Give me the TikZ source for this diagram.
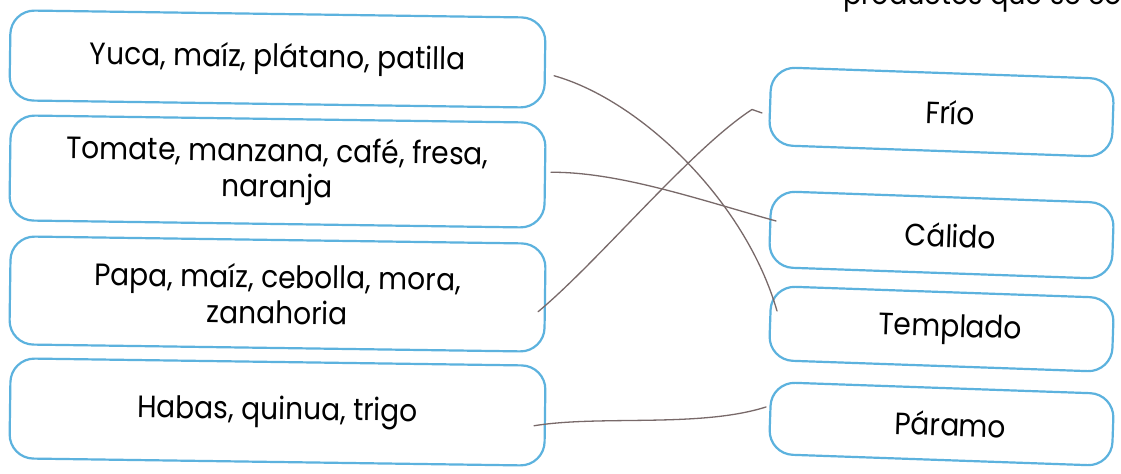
\documentclass[tikz,border=0pt]{standalone}
\usepackage{fontspec}
\setmainfont[FakeStretch=0.91]{Poppins}
\definecolor{boxblue}{RGB}{92,178,222}
\definecolor{pencilc}{RGB}{120,105,105}
\begin{document}
\begin{tikzpicture}[x=1bp,y=-1bp,
  box/.style={draw=boxblue, line width=2.2bp, rounded corners=24bp, inner sep=0pt,
              align=center, font=\fontsize{31}{36}\selectfont},
  lbox/.style={box, minimum width=535bp, rotate=-0.8},
  rbox/.style={box, minimum width=343bp, rotate=-2,
               execute at begin node={\hspace*{18bp}}},
  pencil/.style={draw=pencilc, line width=1.3bp, line cap=round}]
\useasboundingbox (0,0) rectangle (1121,474);
\fill[white] (0,0) rectangle (1121,474);
% partial heading at the top edge
\node[anchor=base east, font=\fontsize{30}{32}\selectfont] (head) at (1140,5) {productos que se cos};
% left boxes
\node[lbox, minimum height=90bp]  (y1) at (277.5,59)  {Yuca, maíz, plátano, patilla};
\node[lbox, minimum height=105bp] (y2) at (277.5,171.5) {Tomate, manzana, café, fresa,\\naranja};
\node[lbox, minimum height=108bp] (y3) at (277.5,294) {Papa, maíz, cebolla, mora,\\zanahoria};
\node[lbox, minimum height=100bp] (y4) at (277.5,412) {Habas, quinua, trigo};
% right boxes
\node[rbox, minimum height=78bp] (frio)     at (941.5,112)   {Frío};
\node[rbox, minimum height=76bp] (calido)   at (941.5,235)   {Cálido};
\node[rbox, minimum height=74bp] (templado) at (941.5,329)   {Templado};
\node[rbox, minimum height=72bp] (paramo)   at (941.5,424)   {Páramo};
% hand-drawn connectors
\draw[pencil] ([shift={(8,13)}]y1.east) .. controls (640,100) and (745,200) .. ([shift={(8,-12)}]templado.west);
\draw[pencil] ([shift={(5,-3)}]y2.east) .. controls (620,172) and (700,200) .. ([shift={(7,-8)}]calido.west);
\draw[pencil] ([shift={(-8,14)}]y3.east) .. controls (600,260) and (690,150) .. ([shift={(-17,3.5)}]frio.west)
      -- ([shift={(-7,7)}]frio.west);
\draw[pencil] ([shift={(-12,10)}]y4.east) .. controls (600,415) and (700,428) .. ([shift={(-3,-11)}]paramo.west);
\end{tikzpicture}
\end{document}
